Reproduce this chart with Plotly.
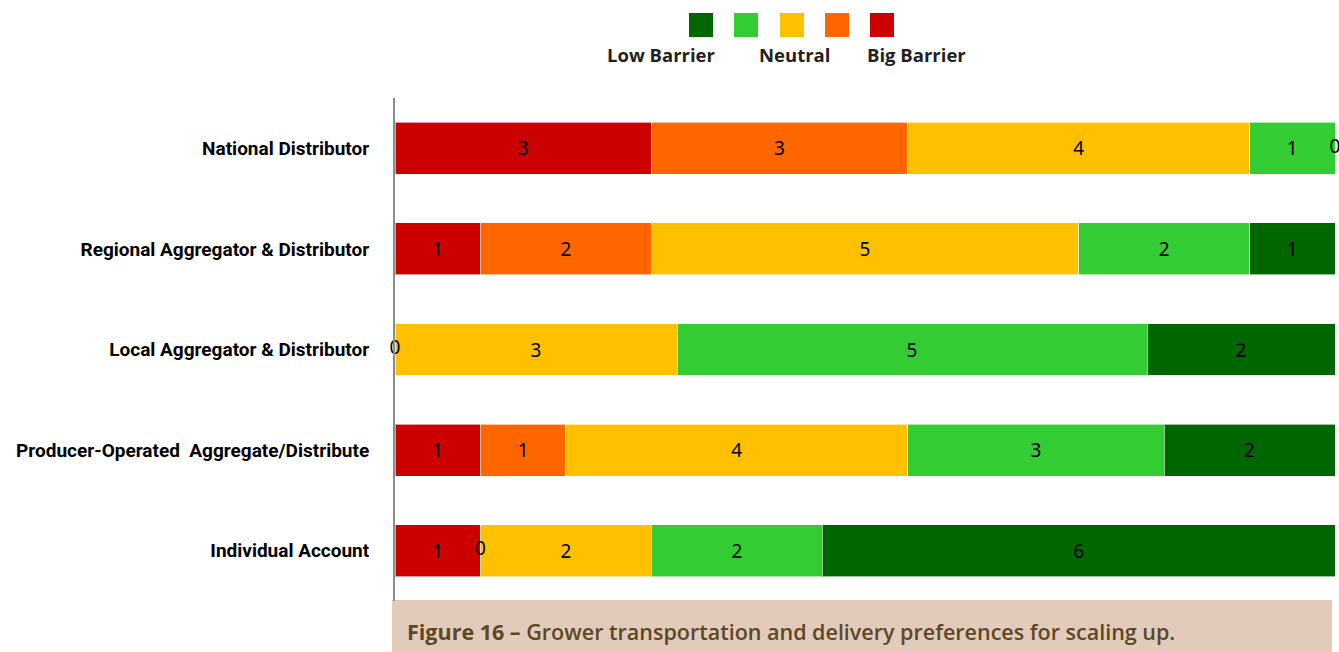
import plotly.graph_objects as go

categories = ["National Distributor",
              "Regional Aggregator & Distributor",
              "Local Aggregator & Distributor",
              "Producer-Operated  Aggregate/Distribute",
              "Individual Account"]
big_barrier = [3, 1, 0, 1, 1]
moderate_barrier = [3, 2, None, 1, 0]
neutral = [4, 5, 3, 4, 2]
low_moderate = [1, 2, 5, 3, 2]
low_barrier = [0, 1, 2, 2, 6]

series = [
    ("Big Barrier", big_barrier, "#cc0000"),
    ("Moderate Barrier", moderate_barrier, "#ff6600"),
    ("Neutral", neutral, "#ffc000"),
    ("Some Barrier", low_moderate, "#33cc33"),
    ("Low Barrier", low_barrier, "#006600"),
]
legend_order = ["Low Barrier", "Some Barrier", "Neutral", "Moderate Barrier", "Big Barrier"]
legend_labels = ["Low Barrier", "Neutral", "Big Barrier"]

W_PX, H_PX = 1339, 652
L, T = 395, 98
R = W_PX - 1335
B = H_PX - 601
PW, PH = W_PX - L - R, H_PX - T - B

def xp(px):
    return (px - L) / PW

def yp(py):
    return 1 - (py - T) / PH

fig = go.Figure()
for name, vals, color in series:
    fig.add_trace(go.Bar(
        y=categories, x=[v if v is not None else 0 for v in vals], name=name,
        orientation="h", marker=dict(color=color, line=dict(color="rgba(255,255,255,0.6)", width=1)),
        text=[str(v) if v else "" for v in vals],
        textposition="inside", insidetextanchor="middle", textangle=0,
        textfont=dict(family="Noto Sans, Open Sans, sans-serif", size=19, color="black"),
        hoverinfo="skip", showlegend=False,
    ))

# zero-valued segments: label at their (zero-width) position in the normalised stack
zx, zy = [], []
for i, cat in enumerate(categories):
    vals = [s[1][i] for s in series]
    total = sum(v for v in vals if v is not None)
    cum = 0
    for v in vals:
        if v == 0:
            zx.append(cum / total)
            zy.append(cat)
        if v is not None:
            cum += v
fig.add_trace(go.Scatter(
    x=zx, y=zy, mode="text", text=["0"] * len(zx), cliponaxis=False,
    textposition="middle center",
    textfont=dict(family="Noto Sans, Open Sans, sans-serif", size=19, color="black"),
    hoverinfo="skip", showlegend=False,
))

shapes = []
annotations = []
color_of = {n: c for n, _, c in series}
sw_x = [689, 734, 780, 825, 870]
for n, x0 in zip(legend_order, sw_x):
    shapes.append(dict(type="rect", xref="paper", yref="paper",
                       x0=xp(x0), x1=xp(x0 + 24), y0=yp(37), y1=yp(13),
                       fillcolor=color_of[n], line=dict(width=0), layer="above"))
for lab, cx in zip(legend_labels, [661, 794, 916]):
    annotations.append(dict(text="<b>" + lab + "</b>", xref="paper", yref="paper",
                            x=xp(cx), y=yp(54), xanchor="center", yanchor="middle",
                            showarrow=False,
                            font=dict(family="Open Sans, sans-serif", size=18.5, color="#231f20")))
shapes.append(dict(type="rect", xref="paper", yref="paper",
                   x0=xp(392), x1=xp(1332), y0=yp(652), y1=yp(600),
                   fillcolor="#e3cbbb", line=dict(width=0), layer="below"))
annotations.append(dict(
    text="<b>Figure 16 –</b> Grower transportation and delivery preferences for scaling up.",
    xref="paper", yref="paper", x=xp(405), y=yp(631), xanchor="left", yanchor="middle",
    showarrow=False,
    font=dict(family="Open Sans, sans-serif", size=21.5, color="#5c4826", weight=600)))

fig.update_layout(
    width=W_PX, height=H_PX,
    margin=dict(l=L, r=R, t=T, b=B, autoexpand=False),
    barmode="stack", barnorm="fraction", bargap=0.484,
    plot_bgcolor="white", paper_bgcolor="white",
    shapes=shapes, annotations=annotations,
    xaxis=dict(range=[0, 1], visible=False, fixedrange=True),
    yaxis=dict(autorange="reversed", showline=True, linecolor="#8c8c8c", linewidth=2,
               automargin=False, fixedrange=True,
               ticks="outside", ticklen=20, tickcolor="rgba(0,0,0,0)", showgrid=False,
               tickfont=dict(family="Roboto, sans-serif",
                             size=19, color="black", weight="bold")),
)

fig.write_html("out.html", config={"displayModeBar": False},
               post_script="document.body.style.margin='0';document.body.style.overflow='hidden';")
